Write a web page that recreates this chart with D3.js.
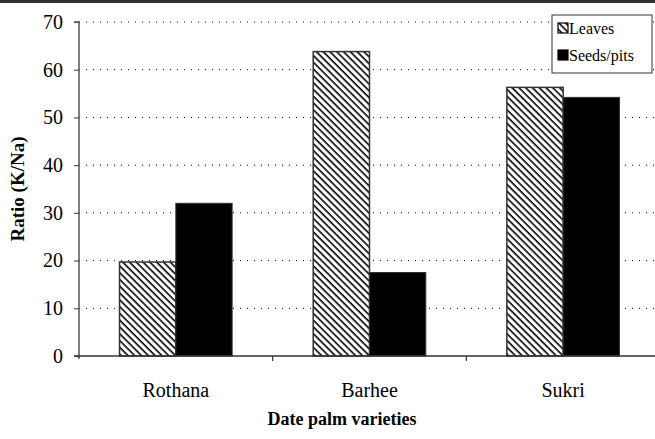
<!DOCTYPE html>
<html>
<head>
<meta charset="utf-8">
<script src="https://cdn.jsdelivr.net/npm/d3@7"></script>
<style>
  body { margin: 0; background: #fff; }
  svg { display: block; }
</style>
</head>
<body>
<svg id="chart" width="655" height="439"></svg>
<script>
// data
const varieties = ['Rothana', 'Barhee', 'Sukri'];
const seriesNames = ['Leaves', 'Seeds/pits'];
const leaves = [19.7, 63.8, 56.3];
const seeds = [32.0, 17.5, 54.2];
const yTicks = [0, 10, 20, 30, 40, 50, 60, 70];

const serif = "'Times New Roman', Tinos, 'Liberation Serif', serif";

const svg = d3.select('#chart');
const margin = { left: 79, right: -5, top: 22, bottom: 83 };
const W = 655, H = 439;

const x = d3.scaleBand().domain(varieties).range([margin.left, W - margin.right]);
const x1 = d3.scaleBand().domain(seriesNames).range([0, x.bandwidth()]).paddingOuter(0.72);
const y = d3.scaleLinear().domain([0, 70]).range([H - margin.bottom, margin.top]);

// dark band on top
svg.append('rect').attr('x', 0).attr('y', 0).attr('width', W).attr('height', 3).attr('fill', '#333');

// hatch pattern, stripes running top-left to bottom-right
const defs = svg.append('defs');
const ps = 4.8;
const pat = defs.append('pattern')
  .attr('id', 'hatch')
  .attr('patternUnits', 'userSpaceOnUse')
  .attr('width', ps).attr('height', ps)
  .attr('patternTransform', 'rotate(45)');
pat.append('rect').attr('width', ps).attr('height', ps).attr('fill', '#fff');
pat.append('line').attr('x1', 0).attr('y1', 0).attr('x2', ps).attr('y2', 0)
  .attr('stroke', '#000').attr('stroke-width', 3.2);

// gridlines
svg.append('g').selectAll('line')
  .data(yTicks.filter(d => d > 0))
  .join('line')
  .attr('x1', margin.left).attr('x2', W)
  .attr('y1', d => y(d)).attr('y2', d => y(d))
  .attr('stroke', '#000').attr('stroke-width', 1)
  .attr('stroke-dasharray', '1,6');

// bars
const groups = svg.append('g').selectAll('g')
  .data(varieties)
  .join('g')
  .attr('transform', d => `translate(${x(d)},0)`);

groups.append('rect')
  .attr('x', x1('Leaves'))
  .attr('width', x1.bandwidth())
  .attr('y', (d, i) => y(leaves[i]))
  .attr('height', (d, i) => y(0) - y(leaves[i]))
  .attr('fill', 'url(#hatch)')
  .attr('stroke', '#333').attr('stroke-width', 1.5);

groups.append('rect')
  .attr('x', x1('Seeds/pits'))
  .attr('width', x1.bandwidth())
  .attr('y', (d, i) => y(seeds[i]))
  .attr('height', (d, i) => y(0) - y(seeds[i]))
  .attr('fill', '#000')
  .attr('stroke', '#333').attr('stroke-width', 1);

// y axis
const yAxis = svg.append('g')
  .attr('transform', `translate(${margin.left},0)`)
  .call(d3.axisLeft(y).tickValues(yTicks).tickSize(5).tickPadding(11));
yAxis.select('.domain').attr('stroke', '#555').attr('stroke-width', 1.5).attr('d', `M-5,${y(70)}H0V${y(0) + 3}`);
yAxis.selectAll('.tick line').attr('stroke', '#555').attr('stroke-width', 1.2);
yAxis.selectAll('.tick text').attr('font-size', 20).attr('fill', '#000');

// x axis
const xAxis = svg.append('g')
  .attr('transform', `translate(0,${y(0)})`)
  .call(d3.axisBottom(x).tickSize(0).tickPadding(27));
xAxis.select('.domain').attr('stroke', '#333').attr('stroke-width', 1.5).attr('d', `M${margin.left - 5},0H${W}`);
xAxis.selectAll('.tick text').attr('font-size', 20).attr('fill', '#000');
svg.append('g').selectAll('line')
  .data(varieties.slice(1))
  .join('line')
  .attr('x1', d => x(d)).attr('x2', d => x(d))
  .attr('y1', y(0)).attr('y2', y(0) + 5)
  .attr('stroke', '#333').attr('stroke-width', 1.2);

// axis titles
svg.append('text')
  .attr('x', 342).attr('y', 425)
  .attr('text-anchor', 'middle')
  .attr('font-size', 18).attr('font-weight', 'bold')
  .text('Date palm varieties');

svg.append('text')
  .attr('transform', `translate(24,${(y(0) + y(70)) / 2}) rotate(-90)`)
  .attr('text-anchor', 'middle')
  .attr('font-size', 19).attr('font-weight', 'bold')
  .text('Ratio (K/Na)');

// legend
const lg = svg.append('g').attr('transform', 'translate(552,15)');
lg.append('rect').attr('width', 100).attr('height', 58)
  .attr('fill', '#fff').attr('stroke', '#333').attr('stroke-width', 1);
seriesNames.forEach((name, i) => {
  const yy = 14 + i * 27;
  lg.append('rect').attr('x', 6).attr('y', yy - 6).attr('width', 10).attr('height', 10)
    .attr('fill', i === 0 ? 'url(#hatch)' : '#000').attr('stroke', '#000').attr('stroke-width', 1.2);
  lg.append('text').attr('x', 17).attr('y', yy + 5)
    .attr('font-size', 16).text(name);
});

// one serif face for every label
svg.selectAll('text').style('font-family', serif);
</script>
</body>
</html>
